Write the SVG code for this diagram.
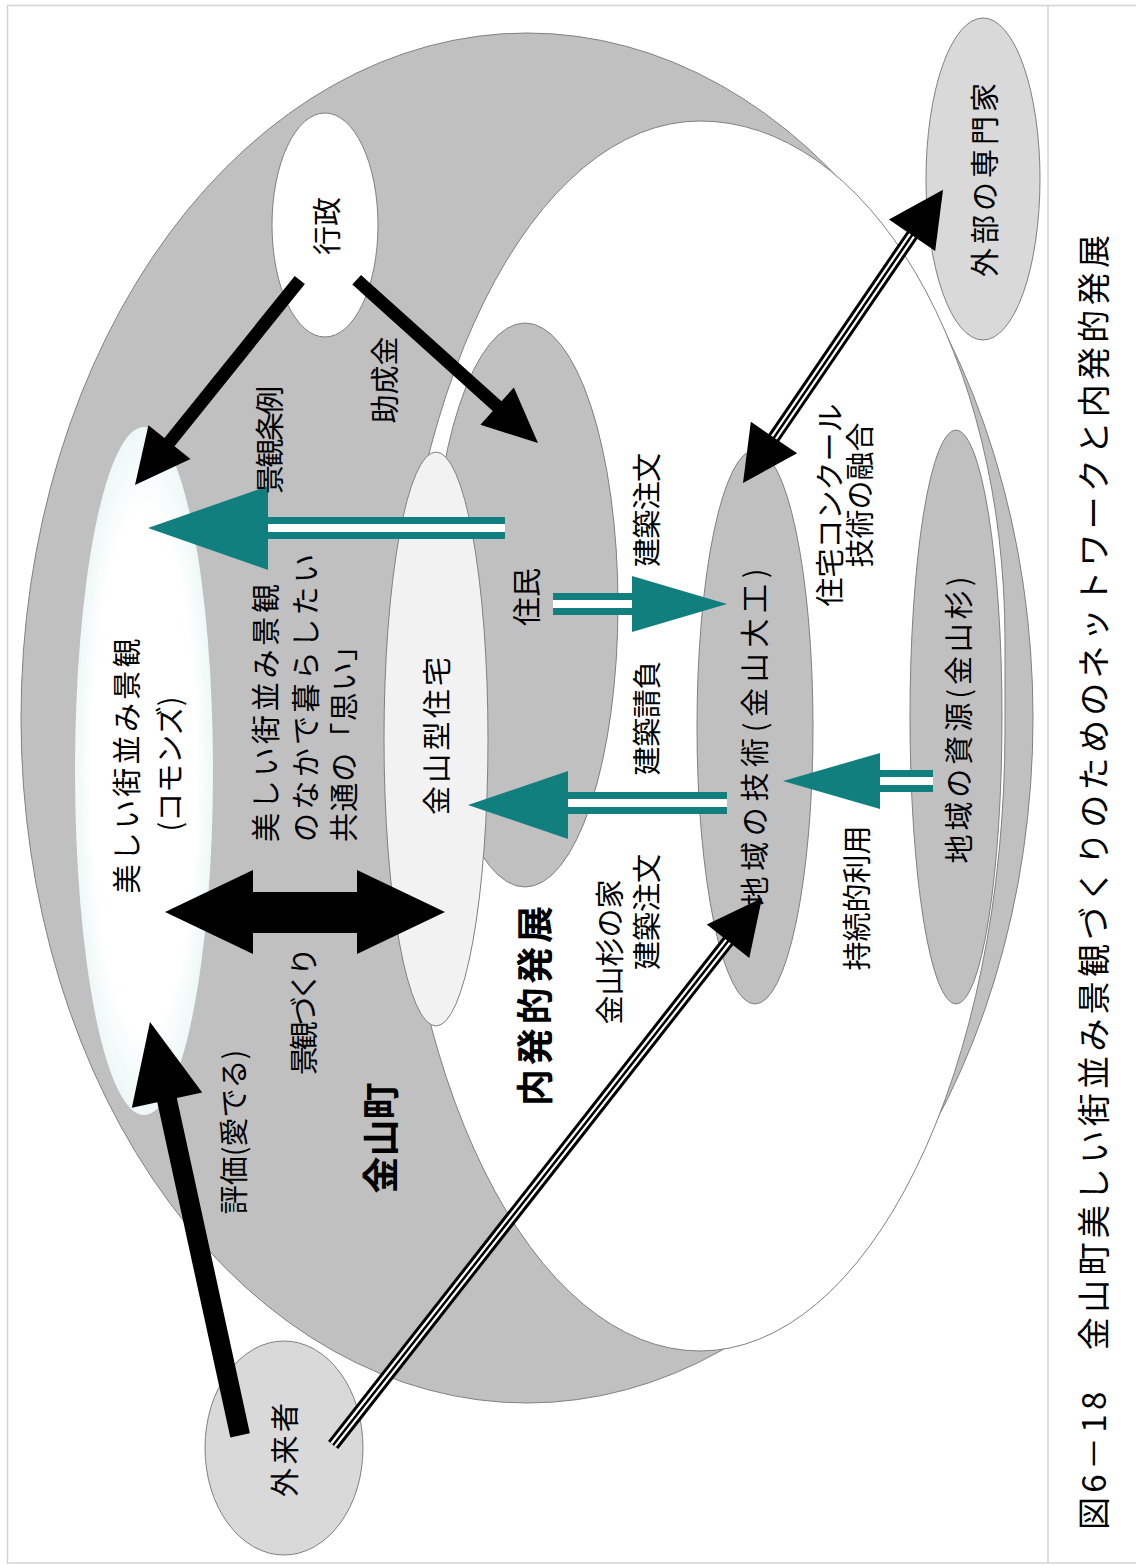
<svg xmlns="http://www.w3.org/2000/svg" width="1136" height="1567" viewBox="0 0 1136 1567">
<defs>
<style>
.t{font-family:"Noto Sans CJK JP","Noto Sans CJK SC",sans-serif;font-size:29px;fill:#000;text-anchor:middle;dominant-baseline:central}
.b{font-weight:bold;font-size:37px}
.gray{fill:#c0c0c0;stroke:#808080;stroke-width:1}
.lite{fill:#d9d9d9;stroke:#808080;stroke-width:1}
.wht{fill:#fff;stroke:#808080;stroke-width:1}
.blk{fill:#000}
.teal{fill:#127f7f}
.ts{stroke:#127f7f;stroke-width:22;fill:none}
.tg{stroke:#fff;stroke-width:8;fill:none}
.k1{stroke:#000;stroke-width:13;fill:none}
.k2{stroke:#fff;stroke-width:7;fill:none}
.k3{stroke:#000;stroke-width:2.5;fill:none}
</style>
<radialGradient id="commons" cx="0.5" cy="0.5" r="0.5">
<stop offset="0.75" stop-color="#ffffff"/>
<stop offset="1" stop-color="#eef8f8"/>
</radialGradient>
</defs>
<rect width="1136" height="1567" fill="#fff"/>
<!-- page frame -->
<rect x="7.5" y="5.5" width="1140" height="1557.5" fill="none" stroke="#d4d4d4" stroke-width="1.5"/>
<line x1="1048" y1="5" x2="1048" y2="1563" stroke="#d4d4d4" stroke-width="1.5"/>

<!-- town area and endogenous development area -->
<g id="kaneyama-town"><ellipse cx="527" cy="718" rx="506" ry="685" class="gray"/></g>
<g id="endogenous"><path class="wht" d="M700,121 A305,519 0 0 1 1005,640 L1005,730 A305,621 0 0 1 700,1351 A305,615 0 0 1 395,736 A305,615 0 0 1 700,121 Z"/></g>

<g id="gyosei"><ellipse cx="325" cy="225" rx="53" ry="112" class="wht"/></g>
<g id="commons-node"><ellipse cx="144" cy="771" rx="69" ry="344" fill="url(#commons)"/></g>
<g id="jumin"><ellipse cx="525" cy="605" rx="93" ry="282" class="gray"/></g>
<g id="kaneyama-house"><ellipse cx="436" cy="739" rx="52" ry="287" fill="#f2f2f2" stroke="#808080" stroke-width="1"/></g>
<g id="local-skill"><ellipse cx="755" cy="727" rx="58" ry="277" class="gray"/></g>
<g id="local-resource"><ellipse cx="956" cy="717" rx="46" ry="287" class="gray"/></g>
<g id="outside-expert"><ellipse cx="983" cy="179" rx="57" ry="161" class="lite"/></g>
<g id="visitor"><ellipse cx="284" cy="1448" rx="79" ry="107" class="lite"/></g>

<g id="connectors">
<!-- 行政 -> 景観 (ordinance) -->
<path class="blk" transform="translate(135,485) rotate(128.8)" d="M0,0 L-55,-27 L-55,-6.5 L-263,-6.5 L-263,6.5 L-55,6.5 L-55,27 Z"/>
<!-- 行政 -> 住民 (subsidy) -->
<path class="blk" transform="translate(538,443) rotate(42)" d="M0,0 L-55,-25 L-55,-6.5 L-244,-6.5 L-244,6.5 L-55,6.5 L-55,25 Z"/>
<!-- two-way landscape making -->
<path class="blk" d="M165,912 L253,870 L253,892 L357,892 L357,870 L445,912 L357,954 L357,933 L253,933 L253,954 Z"/>
<!-- visitor evaluation -->
<path class="blk" transform="translate(150,1022) rotate(-102.3)" d="M0,0 L-80,-36 L-80,-10 L-423,-10 L-423,10 L-80,10 L-80,36 Z"/>
<!-- visitor -> local skill (triple line) -->
<g transform="translate(762,898) rotate(-51.9)">
<line class="k1" x1="-695" y1="0" x2="-50" y2="0"/>
<line class="k2" x1="-695" y1="0" x2="-50" y2="0"/>
<line class="k3" x1="-695" y1="0" x2="-50" y2="0"/>
<path class="blk" d="M0,0 L-55,-27 L-55,27 Z"/>
</g>
<!-- local skill <-> outside expert (triple line) -->
<g transform="translate(743,483) rotate(-55.7)">
<line class="k1" x1="50" y1="0" x2="305" y2="0"/>
<line class="k2" x1="50" y1="0" x2="305" y2="0"/>
<line class="k3" x1="50" y1="0" x2="305" y2="0"/>
<path class="blk" d="M0,0 L55,-28 L55,28 Z"/>
<path class="blk" d="M355,0 L300,-28 L300,28 Z"/>
</g>
<!-- residents -> commons -->
<line class="ts" x1="265" y1="528" x2="505" y2="528"/>
<line class="tg" x1="268" y1="528" x2="505" y2="528"/>
<path class="teal" d="M148,528 L268,486 L268,570 Z"/>
<!-- residents -> local skill -->
<line class="ts" x1="553" y1="604" x2="635" y2="604"/>
<line class="tg" x1="553" y1="604" x2="632" y2="604"/>
<path class="teal" d="M727,604 L632,576 L632,632 Z"/>
<!-- local skill -> Kaneyama house -->
<line class="ts" x1="565" y1="803" x2="727" y2="803"/>
<line class="tg" x1="568" y1="803" x2="727" y2="803"/>
<path class="teal" d="M468,805 L568,771 L568,839 Z"/>
<!-- local resource -> local skill -->
<line class="ts" x1="877" y1="781" x2="933" y2="781"/>
<line class="tg" x1="880" y1="781" x2="933" y2="781"/>
<path class="teal" d="M783,781 L880,753 L880,809 Z"/>
</g>

<!-- labels -->
<g id="labels">
<text class="t" transform="translate(983,180) rotate(-90)" textLength="194" lengthAdjust="spacing">外部の専門家</text>
<text class="t" transform="translate(325,226) rotate(-90)">行政</text>
<text class="t" transform="translate(268,440) rotate(-90)" textLength="108" lengthAdjust="spacing">景観条例</text>
<text class="t" transform="translate(383,380) rotate(-90)">助成金</text>
<text class="t" transform="translate(125,766) rotate(-90)" textLength="255" lengthAdjust="spacing">美しい街並み景観</text>
<text class="t" transform="translate(168,764) rotate(-90)">(コモンズ)</text>
<text class="t" transform="translate(264,842) rotate(-90)" style="text-anchor:start" textLength="258" lengthAdjust="spacing">美しい街並み景観</text>
<text class="t" transform="translate(304,842) rotate(-90)" style="text-anchor:start" textLength="288" lengthAdjust="spacing">のなかで暮らしたい</text>
<text class="t" transform="translate(342,842) rotate(-90)" style="text-anchor:start" textLength="210" lengthAdjust="spacing">共通の「思い」</text>
<text class="t" transform="translate(435,736) rotate(-90)" textLength="158" lengthAdjust="spacing">金山型住宅</text>
<text class="t" transform="translate(525,597) rotate(-90)">住民</text>
<text class="t" transform="translate(645,510) rotate(-90)" textLength="114" lengthAdjust="spacing">建築注文</text>
<text class="t" transform="translate(645,718) rotate(-90)" textLength="115" lengthAdjust="spacing">建築請負</text>
<text class="t" transform="translate(753,737) rotate(-90)" textLength="337" lengthAdjust="spacing">地域の技術(金山大工)</text>
<text class="t" transform="translate(828,505) rotate(-90)">住宅コンクール</text>
<text class="t" transform="translate(858,495) rotate(-90)">技術の融合</text>
<text class="t" transform="translate(957,720) rotate(-90)" textLength="287" lengthAdjust="spacing">地域の資源(金山杉)</text>
<text class="t" transform="translate(855,898) rotate(-90)">持続的利用</text>
<text class="t" transform="translate(608,952) rotate(-90)">金山杉の家</text>
<text class="t" transform="translate(645,912) rotate(-90)">建築注文</text>
<text class="t b" transform="translate(533,1006) rotate(-90)" textLength="200" lengthAdjust="spacing">内発的発展</text>
<text class="t b" transform="translate(379,1138) rotate(-90)">金山町</text>
<text class="t" transform="translate(302,1011) rotate(-90)" textLength="128" lengthAdjust="spacing">景観づくり</text>
<text class="t" transform="translate(232,1132) rotate(-90)">評価(愛でる)</text>
<text class="t" transform="translate(283,1450) rotate(-90)" textLength="94" lengthAdjust="spacing">外来者</text>
<text class="t" transform="translate(1092,1530) rotate(-90)" style="text-anchor:start;font-size:33px" textLength="1295" lengthAdjust="spacing">図6－18　金山町美しい街並み景観づくりのためのネットワークと内発的発展</text>
</g>
</svg>
